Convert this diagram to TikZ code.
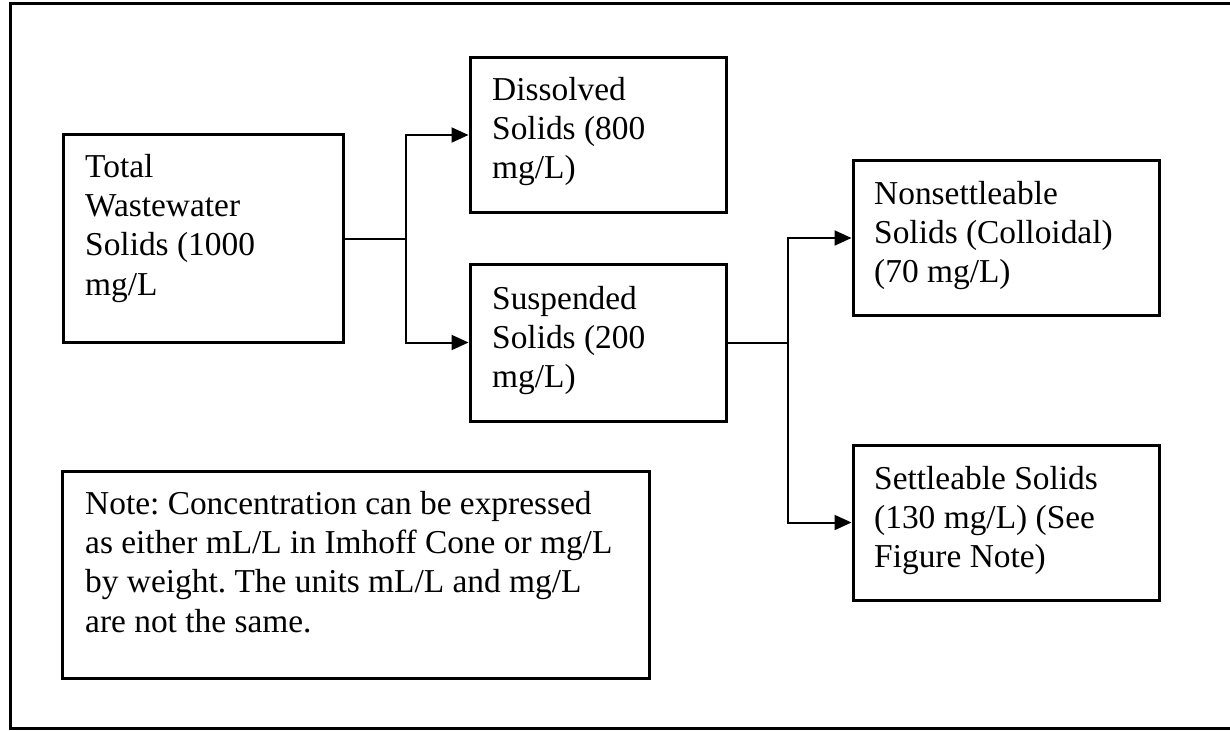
\documentclass[tikz,border=0pt]{standalone}
\usepackage{fontspec}
\setmainfont{Liberation Serif}
\usetikzlibrary{arrows.meta}
\frenchspacing
\begin{document}
\begin{tikzpicture}[x=1pt,y=-1pt,
  box/.style={draw=black, line width=3pt, inner sep=0pt},
  txt/.style={anchor=north west, inner sep=0pt, align=left,
              font=\fontsize{33.4pt}{39.3pt}\selectfont},
  conn/.style={draw=black, line width=2pt},
  arr/.style={conn, -{Triangle[length=17pt,width=15pt]}},
  frame/.style={draw=black, line width=3pt}]
\useasboundingbox (0,0) rectangle (1230,730);
% outer frame (open on the right)
\coordinate (fa) at (1230,4);
\coordinate (fb) at (10,4);
\coordinate (fc) at (10,728);
\coordinate (fd) at (1230,728);
\draw[frame] (fa) -- (fb) -- (fc) -- (fd);
% boxes
\node[box, minimum width=280pt, minimum height=207pt] (total) at (203,238.5) {};
\node[box, minimum width=256pt, minimum height=154pt] (diss) at (598,135) {};
\node[box, minimum width=256pt, minimum height=157pt] (susp) at (598,342.5) {};
\node[box, minimum width=306pt, minimum height=154pt] (nons) at (1006,238) {};
\node[box, minimum width=306pt, minimum height=155pt] (sett) at (1006,522.5) {};
\node[box, minimum width=587pt, minimum height=207pt] (note) at (355.5,574.5) {};
% texts
\node[txt] (totaltxt) at (85,154) {Total\\Wastewater\\Solids (1000\\mg/L};
\node[txt] (disstxt) at (492,77) {Dissolved\\Solids (800\\mg/L)};
\node[txt] (susptxt) at (492,286) {Suspended\\Solids (200\\mg/L)};
\node[txt] (nonstxt) at (874,181) {Nonsettleable\\Solids (Colloidal)\\(70 mg/L)};
\node[txt] (setttxt) at (874,466) {Settleable Solids\\(130 mg/L) (See\\Figure Note)};
\node[txt] (notetxt) at (85,491) {Note: Concentration can be expressed\\as either mL/L in Imhoff Cone or mg/L\\by weight. The units mL/L and mg/L\\are not the same.};
% connectors
\coordinate (j1) at (406,238.5);
\coordinate (j2) at (788,342.5);
\draw[conn] (total.east) -- (j1);
\draw[arr] (j1) |- (diss.west);
\draw[arr] (j1) |- (susp.west);
\draw[conn] (susp.east) -- (j2);
\draw[arr] (j2) |- (nons.west);
\draw[arr] (j2) |- (sett.west);
\end{tikzpicture}
\end{document}
